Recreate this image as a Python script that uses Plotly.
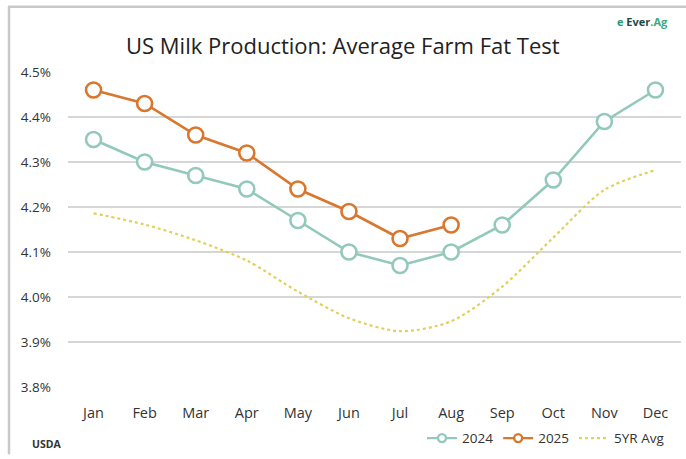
import plotly.graph_objects as go

# Monthly average farm fat test (%)
months = ["Jan", "Feb", "Mar", "Apr", "May", "Jun", "Jul", "Aug", "Sep", "Oct", "Nov", "Dec"]
fat_2024 = [4.35, 4.30, 4.27, 4.24, 4.17, 4.10, 4.07, 4.10, 4.16, 4.26, 4.39, 4.46]
fat_2025 = [4.46, 4.43, 4.36, 4.32, 4.24, 4.19, 4.13, 4.16]
fat_5yr = [4.186, 4.161, 4.126, 4.081, 4.012, 3.953, 3.924, 3.946, 4.023, 4.132, 4.238, 4.282]
y_ticks = [3.8, 3.9, 4.0, 4.1, 4.2, 4.3, 4.4, 4.5]
y_tick_labels = [f"{v:.1f}%" for v in y_ticks]

TEAL = "#93c9bb"
ORANGE = "#d9772e"
GOLD = "#e3cf5e"
FONT = "Open Sans"

# page geometry (pixels) used for the plot area margins and frame lines
W, H = 686, 459
L, R, T, B = 68, 5, 72, 68
PW, PH = W - L - R, H - T - B


def px_x(x):
    return (x - L) / PW


def px_y(y):
    return (H - B - y) / PH


fig = go.Figure()

fig.add_trace(go.Scatter(
    x=months, y=fat_5yr, name="5YR Avg", mode="lines", showlegend=False,
    line=dict(color=GOLD, width=2.2, dash="dot", shape="spline", smoothing=0.8),
    cliponaxis=False,
))
fig.add_trace(go.Scatter(
    x=months, y=fat_2024, name="2024", mode="lines+markers", showlegend=False,
    line=dict(color=TEAL, width=2.6),
    marker=dict(size=15, color="white", line=dict(color=TEAL, width=2.6)),
    cliponaxis=False,
))
fig.add_trace(go.Scatter(
    x=months[:len(fat_2025)], y=fat_2025, name="2025", mode="lines+markers", showlegend=False,
    line=dict(color=ORANGE, width=2.6),
    marker=dict(size=15, color="white", line=dict(color=ORANGE, width=2.6)),
    cliponaxis=False,
))

# legend entries with compact symbols
for name, color, dash, with_marker in [("2024", TEAL, "solid", True),
                                       ("2025", ORANGE, "solid", True),
                                       ("5YR Avg", GOLD, "dot", False)]:
    fig.add_trace(go.Scatter(
        x=[None], y=[None], name=name,
        mode="lines+markers" if with_marker else "lines",
        line=dict(color=color, width=2.4, dash=dash),
        marker=dict(size=8, color="white", line=dict(color=color, width=2.4)),
    ))

annotations = [
    dict(text="US Milk Production: Average Farm Fat Test", x=px_x(343), y=px_y(45),
         xref="paper", yref="paper", showarrow=False, xanchor="center", yanchor="middle",
         font=dict(family=FONT, size=22, color="#222222")),
    dict(text="<b>USDA</b>", x=px_x(30), y=px_y(449), xref="paper", yref="paper",
         showarrow=False, xanchor="left", yanchor="middle",
         font=dict(family=FONT, size=10.5, color="#333333")),
    dict(text="<b><span style='color:#2e9a78'>e</span> Ever<span style='color:#3aa883'>.Ag</span></b>",
         x=px_x(670), y=px_y(21), xref="paper", yref="paper", showarrow=False,
         xanchor="right", yanchor="middle",
         font=dict(family=FONT, size=11, color="#1f4a44")),
]

shapes = [
    # outer frame: top and left rules
    dict(type="line", xref="paper", yref="paper", x0=px_x(8), x1=px_x(W), y0=px_y(6), y1=px_y(6),
         line=dict(color="#c9c9c9", width=2.5)),
    dict(type="line", xref="paper", yref="paper", x0=px_x(9), x1=px_x(9), y0=px_y(6), y1=px_y(H),
         line=dict(color="#c9c9c9", width=2.5)),
]

fig.update_layout(
    width=W, height=H,
    margin=dict(l=L, r=R, t=T, b=B),
    paper_bgcolor="white", plot_bgcolor="white",
    font=dict(family=FONT, size=13, color="#333333"),
    annotations=annotations,
    shapes=shapes,
    showlegend=True,
    legend=dict(orientation="h", x=px_x(670), y=px_y(443), xanchor="right", yanchor="middle",
                font=dict(family=FONT, size=13.5, color="#333333"),
                itemwidth=30, bgcolor="rgba(0,0,0,0)"),
)

fig.update_xaxes(
    type="category", range=[-0.5, 11.5], showgrid=False, showline=False, zeroline=False,
    ticks="", ticklabelstandoff=15, tickfont=dict(size=14.5, color="#333333"),
)
fig.update_yaxes(
    range=[3.8, 4.5], tickvals=y_ticks, ticktext=y_tick_labels,
    showgrid=True, gridcolor="#d6d6d6", gridwidth=1.5, zeroline=False, showline=False,
    ticks="", ticklabelstandoff=16, tickfont=dict(size=13.5, color="#333333"),
)

fig.write_html("out.html")
